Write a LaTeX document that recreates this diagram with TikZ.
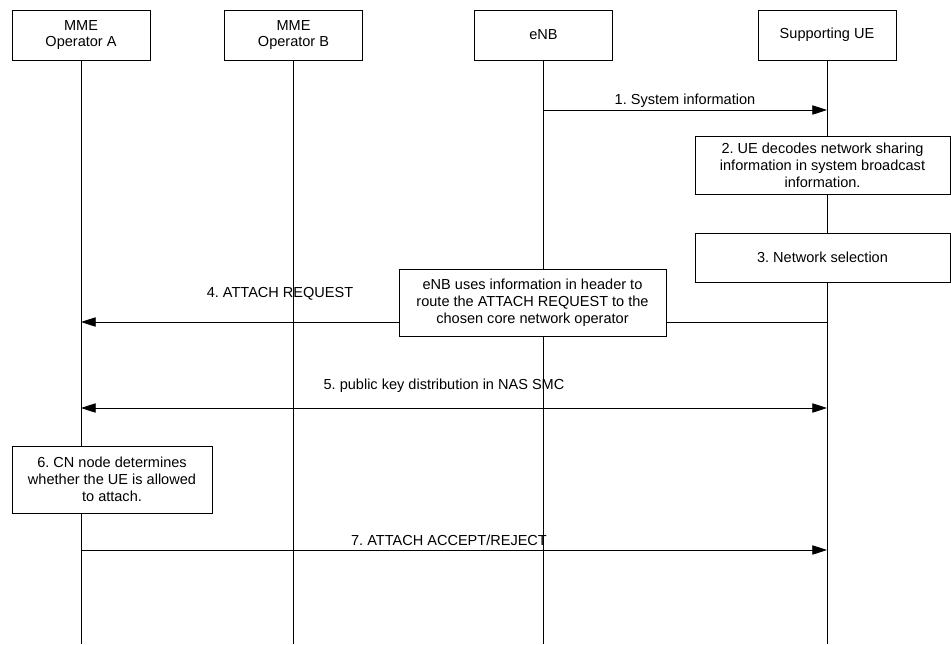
\documentclass[tikz,border=0pt]{standalone}
\usepackage{fontspec}
\setmainfont{Liberation Sans}
\usepackage{tikz}
\usetikzlibrary{arrows.meta}
\frenchspacing

\begin{document}
\begin{tikzpicture}[x=0.75pt,y=-0.75pt,line width=0.6pt,font=\fontsize{10.9}{12.6}\selectfont,
  head box/.style={draw,fill=white,align=center,minimum width=103.5pt,minimum height=37.5pt,inner sep=0pt},
  note box/.style={draw,fill=white,align=center,inner sep=0pt},
  msg/.style={-{Triangle[length=11pt,width=7pt]}},
  msg label/.style={inner sep=0pt}]
\tikzstyle{both msg} = [{Triangle[length=11pt,width=7pt]}-{Triangle[length=11pt,width=7pt]}]
\useasboundingbox (0,0) rectangle (951,644);
\coordinate (bottom) at (0,644);

% Draw header boxes
\node[head box] (mmeA) at (81,35) {MME\\Operator A};
\node[head box] (mmeB) at (293.5,35) {MME\\Operator B};
\node[head box] (enb) at (543.5,35) {eNB};
\node[head box] (ue) at (827,35) {Supporting UE};

% Draw lifelines
\draw (mmeA.south) -- (mmeA.south |- bottom);
\draw (mmeB.south) -- (mmeB.south |- bottom);
\draw (enb.south) -- (enb.south |- bottom);
\draw (ue.south) -- (ue.south |- bottom);

% Message end points
\coordinate (enb1) at (543.5,110);
\coordinate (ue1) at (827,110);
\coordinate (ue4) at (827,322);
\coordinate (mmeA4) at (81,322);
\coordinate (mmeA5) at (81,408);
\coordinate (ue5) at (827,408);
\coordinate (mmeA7) at (81,550);
\coordinate (ue7) at (827,550);

% Draw messages
\draw[msg] (enb1) -- (ue1);
\node[msg label] (lbl1) at (685,101) {1. System information};

\node[note box,minimum width=191.25pt,minimum height=43.5pt] (decode) at (822.5,165)
  {2. UE decodes network sharing\\information in system broadcast\\information.};
\node[note box,minimum width=191.25pt,minimum height=36.75pt] (select) at (822.5,257.5)
  {3. Network selection};

\draw[msg] (ue4) -- (mmeA4);
\node[msg label] (lbl4) at (280,294) {4. ATTACH REQUEST};
\node[note box,minimum width=200.25pt,minimum height=50.25pt] (route) at (532.5,302.5)
  {eNB uses information in header to\\route the ATTACH REQUEST to the\\chosen core network operator};

\draw[both msg] (mmeA5) -- (ue5);
\node[msg label] (lbl5) at (444,386) {5. public key distribution in NAS SMC};

\node[note box,minimum width=150pt,minimum height=50.25pt] (cn) at (112,479.5)
  {6. CN node determines\\whether the UE is allowed\\to attach.};

\draw[msg] (mmeA7) -- (ue7);
\node[msg label] (lbl7) at (449,540) {7. ATTACH ACCEPT/REJECT};

\end{tikzpicture}
\end{document}
